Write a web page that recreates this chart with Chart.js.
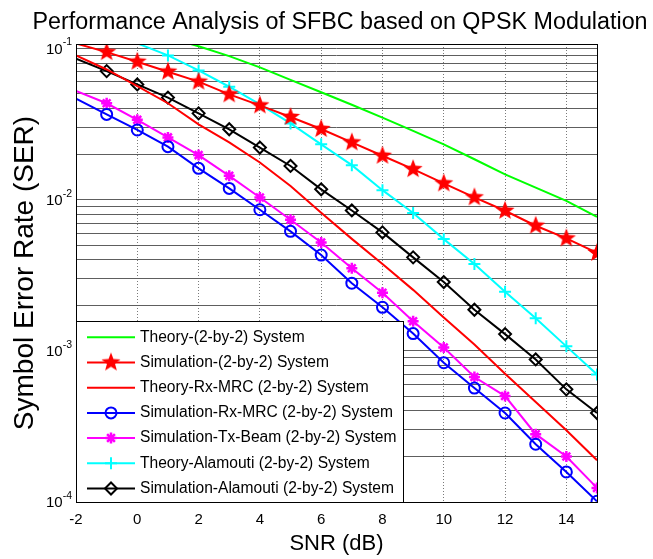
<!DOCTYPE html>
<html>
<head>
<meta charset="utf-8">
<script src="https://cdn.jsdelivr.net/npm/chart.js@4.4.0/dist/chart.umd.min.js"></script>
<style>
  body { margin: 0; background: #fff; }
</style>
</head>
<body>
<canvas id="myChart" width="653" height="559"></canvas>
<script>
// SNR points (dB)
var snr = [-2, -1, 0, 1, 2, 3, 4, 5, 6, 7, 8, 9, 10, 11, 12, 13, 14, 15]

// SER values
var theory22       = [0.19, 0.163, 0.14, 0.118, 0.1035, 0.089, 0.075, 0.062, 0.0513, 0.0424, 0.0349, 0.0285, 0.0232, 0.0185, 0.0147, 0.012, 0.0098, 0.0077]
var sim22          = [0.108, 0.0945, 0.0817, 0.0702, 0.0603, 0.0497, 0.042, 0.0352, 0.0293, 0.0239, 0.0195, 0.0159, 0.0128, 0.01035, 0.00844, 0.00672, 0.00554, 0.00444]
var theoryMrc      = [0.0899, 0.0726, 0.0564, 0.0434, 0.0315, 0.0239, 0.0176, 0.0123, 0.0082, 0.0055, 0.00375, 0.00253, 0.00166, 0.0011, 0.000705, 0.000458, 0.000298, 0.000189]
var simMrc         = [0.0466, 0.0366, 0.0289, 0.0224, 0.0161, 0.01186, 0.00857, 0.00617, 0.0043, 0.0028, 0.00194, 0.0013, 0.000834, 0.000567, 0.000388, 0.000241, 0.000158, 0.000101]
var simTxBeam      = [0.0523, 0.0434, 0.0337, 0.0258, 0.0197, 0.01436, 0.01033, 0.00736, 0.0052, 0.00352, 0.00242, 0.00157, 0.00105, 0.000671, 0.000502, 0.000281, 0.0002, 0.000124]
var theoryAlamouti = [0.16, 0.13, 0.108, 0.0899, 0.0716, 0.0558, 0.0427, 0.0319, 0.0232, 0.0169, 0.01155, 0.00815, 0.00548, 0.00375, 0.00246, 0.00164, 0.00107, 0.000698]
var simAlamouti    = [0.0855, 0.0708, 0.0578, 0.0473, 0.0372, 0.0292, 0.0221, 0.0167, 0.0117, 0.00848, 0.00607, 0.00415, 0.00285, 0.00187, 0.00129, 0.000877, 0.000556, 0.000388]

var seriesNames = [
  'Theory-(2-by-2) System',
  'Simulation-(2-by-2) System',
  'Theory-Rx-MRC (2-by-2) System',
  'Simulation-Rx-MRC (2-by-2) System',
  'Simulation-Tx-Beam (2-by-2) System',
  'Theory-Alamouti (2-by-2) System',
  'Simulation-Alamouti (2-by-2) System'
]
var titleText = 'Performance Analysis of SFBC based on QPSK Modulation'

var xTicks = [-2, 0, 2, 4, 6, 8, 10, 12, 14]
var yDecades = [-4, -3, -2, -1]

var yMin = 1e-4
var yMax = 0.107
var FONT = "'Liberation Sans', Arial, sans-serif"

// filled pentagram like matlab's 'p' marker
function makeStar(color, r) {
  var c = document.createElement('canvas')
  c.width = c.height = 2 * r + 2
  var g = c.getContext('2d')
  g.fillStyle = color
  g.beginPath()
  for (var i = 0; i < 10; i++) {
    var rr = (i % 2) ? r * 0.42 : r
    var a = -Math.PI / 2 + i * Math.PI / 5
    g.lineTo(r + 1 + rr * Math.cos(a), r + 1 + rr * Math.sin(a))
  }
  g.closePath()
  g.fill()
  return c
}
var redStar = makeStar('#ff0000', 10)

// no marker at the first point or outside the axes
function markerRadius(r) {
  return function (c) {
    if (!c.parsed) return r
    return (snr[c.dataIndex] < -1 || c.parsed.y > yMax) ? 0 : r
  }
}

function series(label, arr, color, extra) {
  var ds = {
    label: label,
    data: snr.map(function (x, i) { return { x: x, y: arr[i] } }),
    borderColor: color,
    backgroundColor: color,
    borderWidth: 2,
    pointRadius: 0,
    pointBorderWidth: 2,
    pointBorderColor: color,
    pointBackgroundColor: 'rgba(0,0,0,0)',
    tension: 0,
    fill: false
  }
  for (var k in extra) ds[k] = extra[k]
  return ds
}

var datasets = [
  series(seriesNames[0], theory22, '#00ff00', {}),
  series(seriesNames[1], sim22, '#ff0000', { pointStyle: redStar, pointRadius: markerRadius(10) }),
  series(seriesNames[2], theoryMrc, '#ff0000', {}),
  series(seriesNames[3], simMrc, '#0000ff', { pointStyle: 'circle', pointRadius: markerRadius(5.5) }),
  series(seriesNames[4], simTxBeam, '#ff00ff', { pointStyle: 'star', pointRadius: markerRadius(5.5), pointBorderWidth: 2.5 }),
  series(seriesNames[5], theoryAlamouti, '#00ffff', { pointStyle: 'cross', pointRadius: markerRadius(6) }),
  series(seriesNames[6], simAlamouti, '#000000', { pointStyle: 'rectRot', pointRadius: markerRadius(6) })
]

var yGrid = []
yDecades.forEach(function (e) {
  if (e === -1) { yGrid.push(0.1); return }
  for (var m = 1; m <= 9; m++) yGrid.push(m * Math.pow(10, e))
})

// title, box round the axes, y labels with superscripts, legend box
var extras = {
  id: 'extras',
  afterDraw: function (chart) {
    var ctx = chart.ctx
    var a = chart.chartArea
    var ys = chart.scales.y
    ctx.save()

    ctx.fillStyle = '#000'
    ctx.font = '23.3px ' + FONT
    ctx.textAlign = 'center'
    ctx.textBaseline = 'middle'
    ctx.fillText(titleText, 340, 22.5)

    ctx.strokeStyle = '#000'
    ctx.lineWidth = 1
    ctx.strokeRect(Math.round(a.left) + 0.5, Math.round(a.top) + 0.5, Math.round(a.right - a.left), Math.round(a.bottom - a.top))

    // y tick labels 10^n
    yDecades.forEach(function (e) {
      var py = ys.getPixelForValue(Math.pow(10, e))
      var expTxt = String(e)
      ctx.font = '10.5px ' + FONT
      var ew = ctx.measureText(expTxt).width
      ctx.textAlign = 'left'
      ctx.fillText(expTxt, 72 - ew, py - 6)
      ctx.font = '15px ' + FONT
      ctx.textAlign = 'right'
      ctx.fillText('10', 72 - ew, py + 1)
    })

    // legend
    var lx = Math.round(a.left) + 0.5, ly = 321.5, lw = 327, lh = Math.round(a.bottom) - 321
    ctx.fillStyle = '#fff'
    ctx.fillRect(lx, ly, lw, lh)
    ctx.strokeStyle = '#000'
    ctx.lineWidth = 1
    ctx.strokeRect(lx, ly, lw, lh)
    chart.data.datasets.forEach(function (ds, i) {
      var y = 337.3 + i * 25.2
      ctx.strokeStyle = ds.borderColor
      ctx.lineWidth = 2
      ctx.beginPath()
      ctx.moveTo(87, y)
      ctx.lineTo(135, y)
      ctx.stroke()
      if (ds.pointStyle) {
        var r = typeof ds.pointRadius === 'function' ? ds.pointRadius({}) : ds.pointRadius
        ctx.lineWidth = ds.pointBorderWidth
        ctx.fillStyle = ds.pointBackgroundColor
        Chart.helpers.drawPoint(ctx, { pointStyle: ds.pointStyle, radius: r, rotation: 0, borderWidth: ds.pointBorderWidth }, 111, y)
      }
      ctx.fillStyle = '#000'
      ctx.font = '15.6px ' + FONT
      ctx.textAlign = 'left'
      ctx.textBaseline = 'middle'
      ctx.fillText(ds.label, 140, y)
    })
    ctx.restore()
  }
}

var ctx = document.getElementById('myChart').getContext('2d')
var Chart1 = new Chart(ctx, {
  type: 'line',
  plugins: [extras],
  data: { datasets: datasets },
  options: {
    responsive: false,
    animation: false,
    devicePixelRatio: 1,
    layout: { padding: { left: 0, right: 56, top: 44, bottom: 0 } },
    plugins: {
      legend: { display: false },
      tooltip: { enabled: false },
      title: { display: false }
    },
    scales: {
      x: {
        type: 'linear',
        min: -2,
        max: 15,
        afterBuildTicks: function (sc) { sc.ticks = xTicks.map(function (v) { return { value: v } }) },
        afterFit: function (sc) { sc.height = 57 },
        ticks: { color: '#000', font: { family: FONT, size: 15 }, padding: 9, maxRotation: 0 },
        grid: { color: '#7a7a7a', drawTicks: false },
        border: { display: false, dash: [1, 2] },
        title: { display: true, text: 'SNR (dB)', color: '#000', font: { family: FONT, size: 22 }, padding: { top: 0, bottom: 1.8 } }
      },
      y: {
        type: 'logarithmic',
        min: yMin,
        max: yMax,
        afterBuildTicks: function (sc) { sc.ticks = yGrid.map(function (v) { return { value: v } }) },
        afterFit: function (sc) { sc.width = 76 },
        ticks: { display: false },
        grid: { color: '#5e5e5e', drawTicks: false },
        border: { display: false },
        title: { display: true, text: 'Symbol Error Rate (SER)', color: '#000', font: { family: FONT, size: 28 }, padding: { top: 8.5, bottom: 0 } }
      }
    }
  }
})
</script>
</body>
</html>
